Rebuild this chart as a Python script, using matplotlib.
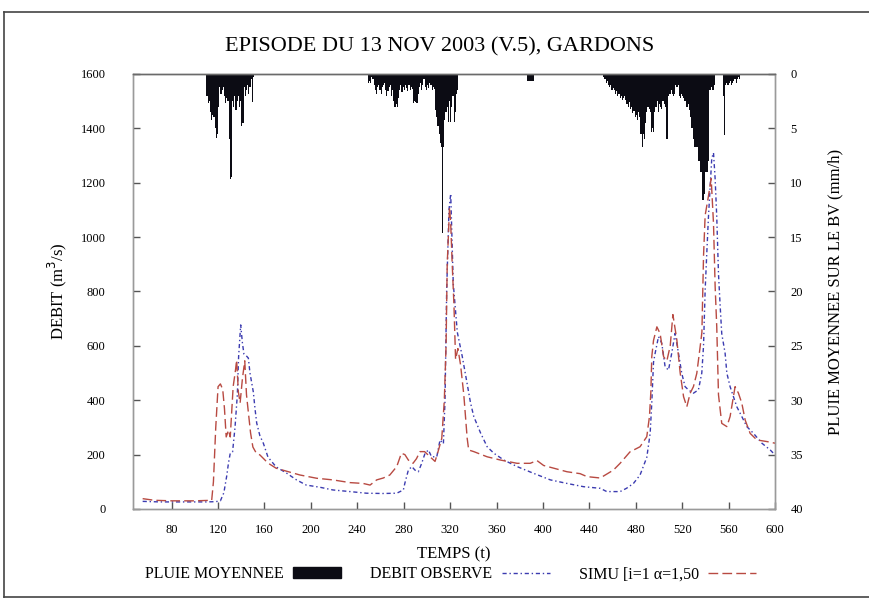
import matplotlib
matplotlib.use("Agg")
import matplotlib.pyplot as plt
from matplotlib.lines import Line2D
from matplotlib.patches import Patch
import numpy as np

plt.rcParams['font.family'] = ['Liberation Serif', 'DejaVu Serif']

# ---- data -------------------------------------------------------------
t_obs = [55, 70, 90, 110, 118, 122, 125, 127.4, 129, 130.5, 132.5, 134.6, 136.6, 137.7,
         139.5, 141, 142.3, 144, 146.1, 147.5, 150.4, 151.8, 153.3, 156, 159, 163, 170,
         179, 187.6, 196, 207.7, 219, 233.7, 248, 262, 274, 279.7, 281, 284, 287, 289.7,
         292.6, 295.5, 298.4, 301.3, 304, 308.5, 311.3, 314.2, 315.6, 317, 319, 320.5,
         322.7, 326.2, 330.5, 334.7, 337.6, 340.4, 346.2, 351.9, 357.7, 366.3, 377.7, 392,
         406.4, 420.7, 435, 449.4, 455, 466.5, 472, 478, 483.7, 489.5, 492.4, 493.8, 495.3,
         496.7, 499.6, 502.4, 505.3, 508.2, 511, 513.9, 516.8, 519.6, 522.5, 525.4, 529.7,
         534, 536.9, 538.4, 539.8, 541.2, 542.6, 545.5, 547, 548.4, 549.8, 551.3, 552.7,
         554.1, 557, 558.5, 561.3, 564.2, 567.1, 571.4, 575.7, 581.5, 588.7, 595.9, 600]
q_obs = [28, 26, 26, 26, 27, 30, 60, 120, 170, 205, 210, 300, 420, 560,
         677, 610, 570, 565, 555, 500, 430, 370, 316, 270, 242, 191, 155,
         132, 107, 88, 80, 70, 64, 58, 57, 58, 70, 95, 143, 156, 143,
         137, 168, 205, 217, 192, 192, 254, 240, 400, 800, 1100, 1160,
         830, 650, 560, 460, 390, 340, 280, 229, 205, 180, 156, 131,
         107, 94, 82, 76, 64, 64, 76, 94, 125, 190, 278, 390, 540,
         573, 634, 610, 523, 511, 573, 646, 573, 500, 450, 438, 426,
         438, 500, 600, 805, 940, 1070, 1290, 1310, 1215, 1075, 865, 750,
         645, 573, 500, 450, 413, 376, 340, 303, 278, 242, 217, 199]

t_sim = [55, 65, 80, 100, 114.5, 116, 118, 120, 122, 124, 125.5, 127, 129, 130.5, 133,
         135, 136, 137.5, 139, 141, 143, 144.5, 146, 148, 150, 153, 156, 163, 170, 179,
         190.6, 205, 219, 233.7, 245, 251, 256.7, 262.4, 268, 274, 278, 281, 284, 288,
         291, 294, 298, 302.7, 307, 310, 312.8, 315, 316.5, 317.5, 319.5, 320.5, 321.8,
         323.3, 324.7, 326.7, 329, 331.8, 334.7, 336, 340.4, 351.9, 363.4, 377.7, 389,
         394.9, 400.6, 420.7, 432, 438, 449.4, 460.7, 466.5, 475, 483.7, 489.5, 491.8,
         493, 493.8, 495.3, 498.2, 501, 504, 506.8, 509.7, 512, 515.4, 518.3, 521.2, 524,
         526.9, 529.7, 532.6, 535.5, 537, 538.4, 539.8, 542.6, 545, 547, 548.4, 549.8,
         551.3, 554.1, 558.5, 561.3, 565.6, 568.5, 571.4, 574.3, 578.6, 584.4, 593, 600]
q_sim = [38, 32, 30, 30, 32, 100, 300, 450, 460, 440, 370, 265, 290, 265, 450,
         510, 548, 430, 390, 480, 545, 420, 360, 280, 228, 205, 199, 169, 150, 139,
         125, 113, 107, 97, 94, 88, 107, 114, 125, 156, 205, 200, 180, 168,
         185, 211, 211, 192, 175, 217, 260, 400, 600, 900, 1110, 1050, 900,
         750, 550, 590, 530, 420, 260, 217, 211, 192, 180, 168, 168,
         178, 160, 137, 130, 119, 114, 143, 168, 210, 229, 266, 340,
         430, 560, 620, 670, 645, 560, 545, 600, 715, 622, 500, 413, 376,
         426, 450, 499, 597, 650, 930, 1080, 1150, 1215, 1050, 820, 670,
         420, 315, 303, 340, 450, 426, 389, 327, 278, 254, 248, 242]

# hourly mean rainfall (mm/h), one episode per block
rain1_start = 110
rain1 = [2.0, 2.7, 2.5, 3.5, 4.2, 3.8, 4.0, 5.0, 5.9, 5.5, 3.0, 1.2, 1.8, 1.5, 1.2,
         2.0, 2.7, 2.2, 2.5, 6.0, 9.7, 9.5, 2.5, 3.0, 2.0, 3.3, 2.5, 2.0, 3.0, 2.5,
         4.8, 4.5, 1.2, 2.0, 1.5, 1.0, 1.8, 1.2, 0.5, 2.6, 0.3]
rain2_start = 249
rain2 = [0.8, 0.6, 0.8, 0.3,
         0.5, 1.0, 1.5, 1.8, 1.2, 1.0, 1.5, 1.8, 1.2, 1.0,
         0.8, 1.5, 2.0, 1.6, 1.2, 1.0, 2.0, 1.5,
         2.5, 3.0, 2.8, 3.0, 2.2, 1.5,
         1.0, 1.7, 1.2, 1.5, 1.0, 1.3, 1.6, 1.0, 1.5, 1.2, 1.4,
         2.7, 2.5, 2.6, 2.7, 1.8, 1.2,
         0.8, 1.5, 1.0, 0.5, 1.2, 1.5, 1.0, 1.3, 0.8, 1.0, 1.5, 1.2, 1.4,
         3.3, 4.0, 4.8, 5.5, 6.3, 6.7,
         14.6,
         6.7, 4.2, 3.5, 3.0, 4.4, 2.5, 4.4, 3.0, 2.0, 4.4, 3.5, 1.8, 1.5]
rain3_start = 386
rain3 = [0.6, 0.6, 0.6, 0.6, 0.6, 0.6]
rain4_start = 452
rain4 = [0.3, 0.5, 0.8, 0.6, 1.0, 1.2, 1.0, 1.5, 1.3, 1.5, 1.8, 1.6, 2.0, 1.8, 2.2,
         2.0, 2.4, 2.2, 2.0, 2.4, 2.8, 3.0, 2.6, 3.2, 3.0, 3.6, 3.4, 4.0, 3.8, 4.2,
         3.5, 4.0, 5.5, 6.7, 5.5, 6.0, 4.5, 3.5, 3.0, 3.2, 3.5, 5.3, 5.0, 5.3, 3.5,
         3.0, 2.5, 3.5, 2.8, 3.0, 3.2, 2.5, 2.8, 3.0, 6.0, 6.0, 2.0, 1.8, 1.5, 1.8,
         2.0, 1.8, 1.0, 1.2, 1.0, 2.0, 2.2, 1.8, 2.0, 2.2, 2.5, 3.0, 3.0, 2.8, 3.3,
         4.0, 5.0, 6.0, 6.7, 6.7, 6.7, 6.7, 8.0, 9.0, 9.0, 11.6, 11.6, 11.0, 9.0, 9.0,
         8.0, 1.5, 1.5, 1.2, 1.5, 1.0]
rain5_start = 555
rain5 = [2.0, 5.6, 1.0, 0.8, 1.0, 0.8, 0.6, 1.0, 0.8, 0.6, 0.5, 0.8, 0.5, 0.3, 0.5]

x_ticks = [80, 120, 160, 200, 240, 280, 320, 360, 400, 440, 480, 520, 560, 600]
q_ticks = [0, 200, 400, 600, 800, 1000, 1200, 1400, 1600]
r_ticks = [0, 5, 10, 15, 20, 25, 30, 35, 40]

# ---- figure ---------------------------------------------------------------
fig = plt.figure(figsize=(8.7, 6.05), dpi=100)
ax = fig.add_axes([0.1533, 0.1587, 0.7375, 0.719])
ax2 = ax.twinx()

for start, vals in [(rain1_start, rain1), (rain2_start, rain2), (rain3_start, rain3),
                    (rain4_start, rain4), (rain5_start, rain5)]:
    tt = start + np.arange(len(vals))
    ax2.bar(tt, vals, width=1.0, align='edge', color='#0c0c14', edgecolor='none',
            linewidth=0)

ax2.set_ylim(40, 0)
ax2.set_yticks(r_ticks)
ax2.set_yticklabels([str(v) for v in r_ticks])
ax2.set_ylabel('PLUIE MOYENNEE SUR LE BV (mm/h)', fontsize=12, labelpad=18,
               rotation=90)

ax.set_zorder(ax2.get_zorder() + 1)
ax.patch.set_visible(False)

blue = '#3b3bb0'
red = '#b84a42'
ax.plot(t_obs, q_obs, color=blue, lw=1.0, ls=(0, (3, 2, 1, 2)))
ax.plot(t_sim, q_sim, color=red, lw=1.0, ls=(0, (7, 3)))

ax.set_xlim(47, 600)
ax.set_ylim(0, 1600)
ax.set_xticks(x_ticks)
ax.set_yticks(q_ticks)
ax.set_xlabel('TEMPS (t)', fontsize=12, labelpad=7)
ax.set_ylabel('DEBIT (m$^3$/s)', fontsize=12, labelpad=8)

for a in (ax, ax2):
    for s in a.spines.values():
        s.set_color('#9a9a9a')
        s.set_linewidth(1.0)
    a.spines['top'].set_color('#6a6a6a')
    a.tick_params(direction='in', length=5, width=1, color='#555555',
                  labelsize=9)
ax.tick_params(axis='y', pad=20)
ax.tick_params(axis='x', pad=11, top=False)
ax2.tick_params(axis='y', pad=11)

fig.text(0.5055, 0.922, 'EPISODE DU 13 NOV 2003 (V.5), GARDONS', ha='center',
         va='center', fontsize=16)

handles = [Patch(facecolor='#0c0c14', edgecolor='#0c0c14'),
           Line2D([], [], color=blue, lw=1.0, ls=(0, (3, 2, 1, 2))),
           Line2D([], [], color=red, lw=1.0, ls=(0, (7, 3)))]
labels = ['PLUIE MOYENNEE', 'DEBIT OBSERVE', 'SIMU [i=1 \u03b1=1,50']
fig.legend(handles, labels, loc='center', bbox_to_anchor=(0.518, 0.051),
           ncol=3, frameon=False, markerfirst=False, fontsize=11.5,
           handlelength=3.0, handleheight=0.7, columnspacing=1.8, handletextpad=0.6)

# outer frame
fr = '#444444'
fig.add_artist(Line2D([0.005, 1.0], [0.980, 0.980], transform=fig.transFigure, color=fr, lw=1.2))
fig.add_artist(Line2D([0.005, 0.005], [0.013, 0.980], transform=fig.transFigure, color=fr, lw=1.2))
fig.add_artist(Line2D([0.005, 1.0], [0.013, 0.013], transform=fig.transFigure, color=fr, lw=1.2))

fig.savefig('out.png', dpi=100)
